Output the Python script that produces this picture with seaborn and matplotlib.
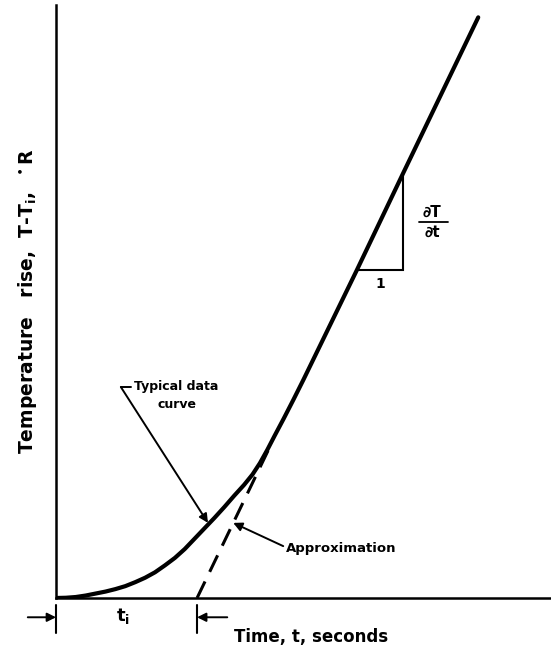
import pandas as pd
import matplotlib
matplotlib.use("Agg")
import matplotlib.pyplot as plt
import seaborn as sns

# --- Data ---
time_s = [0.0, 0.2, 0.4, 0.6, 0.8, 1.0, 1.2, 1.4, 1.6, 1.8, 2.0, 2.2, 2.4, 2.6,
          2.8, 3.0, 3.2, 3.4, 3.6, 3.8, 3.97, 4.12, 4.27, 4.42, 4.6, 4.8, 5.0,
          6.08, 7.01, 8.53]
temp_R = [0.0, 0.005, 0.02, 0.05, 0.09, 0.13, 0.18, 0.24, 0.32, 0.41, 0.52, 0.66,
          0.81, 0.99, 1.20, 1.41, 1.62, 1.84, 2.07, 2.29, 2.50, 2.73, 3.00, 3.29,
          3.63, 4.02, 4.42, 6.64, 8.59, 11.75]

t_i = 2.85                 # intercept of the straight-line approximation
approx_t = [2.85, 4.35]
approx_T = [0.0, 3.12]

# slope triangle on the straight part
tri_t = [6.08, 7.01, 7.01]
tri_T = [6.64, 6.64, 8.59]

curve = pd.DataFrame({"t": time_s, "T": temp_R})
approx = pd.DataFrame({"t": approx_t, "T": approx_T})

# --- Figure ---
sns.set_style("white")
plt.rcParams["font.family"] = ["DejaVu Sans"]
plt.rcParams["mathtext.fontset"] = "dejavusans"
plt.rcParams["text.color"] = "black"

fig = plt.figure(figsize=(5.51, 6.54), dpi=100)
ax = fig.add_axes([56 / 551, 56 / 654, 495 / 551, 593 / 654])
ax.set_xlim(0, 10)
ax.set_ylim(0, 12)

sns.lineplot(data=curve, x="t", y="T", ax=ax, color="black", lw=3, sort=False)
sns.lineplot(data=approx, x="t", y="T", ax=ax, color="black", lw=2.2, sort=False)
ax.lines[-1].set_dashes((6, 3.5))
ax.plot(tri_t, tri_T, color="black", lw=1.5, solid_joinstyle="miter")

for side in ["top", "right"]:
    ax.spines[side].set_visible(False)
for side in ["left", "bottom"]:
    ax.spines[side].set_linewidth(1.8)
    ax.spines[side].set_color("black")
ax.set_xticks([])
ax.set_yticks([])
ax.set_xlabel("")
ax.set_ylabel("")

arrow = dict(arrowstyle="-|>", color="black", lw=1.4, mutation_scale=13,
             shrinkA=0, shrinkB=0)

# --- Annotations ---
ax.text(1.58, 4.27, "Typical data", ha="left", va="center",
        fontsize=9, fontweight="bold")
ax.text(2.44, 3.91, "curve", ha="center", va="center",
        fontsize=9, fontweight="bold")
ax.plot([1.31, 1.52], [4.27, 4.27], color="black", lw=1.4)
ax.annotate("", xy=(3.07, 1.52), xytext=(1.31, 4.27), arrowprops=arrow)

ax.text(4.65, 1.01, "Approximation", ha="left", va="center",
        fontsize=9.5, fontweight="bold")
ax.annotate("", xy=(3.58, 1.52), xytext=(4.59, 1.05), arrowprops=arrow)

# slope labels
ax.text(6.55, 6.36, "1", ha="center", va="center", fontsize=10, fontweight="bold")
ax.text(7.6, 7.8, "∂T", ha="center", va="center", fontsize=11, fontweight="bold")
ax.plot([7.33, 7.92], [7.61, 7.61], color="black", lw=1.3)
ax.text(7.6, 7.4, "∂t", ha="center", va="center", fontsize=11, fontweight="bold")

# t_i marker below the axis
for xv in [0, t_i]:
    ax.plot([xv, xv], [-0.14, -0.71], color="black", lw=1.5, clip_on=False)
ax.annotate("", xy=(0, -0.39), xytext=(-0.57, -0.39), arrowprops=arrow,
            annotation_clip=False)
ax.annotate("", xy=(t_i, -0.39), xytext=(3.46, -0.39), arrowprops=arrow,
            annotation_clip=False)
ax.text(1.36, -0.36, r"t$_\mathregular{i}$", ha="center", va="center",
        fontsize=13, fontweight="bold")

ax.text(5.15, -0.79, "Time, t, seconds", ha="center", va="center",
        fontsize=12, fontweight="bold", clip_on=False)
ax.text(-0.57, 6.0, r"Temperature   rise,  T-T$_\mathregular{i}$,  $^\bullet$R",
        ha="center", va="center", rotation=90,
        fontsize=13.5, fontweight="bold", clip_on=False)

fig.savefig("out.png", dpi=100)
